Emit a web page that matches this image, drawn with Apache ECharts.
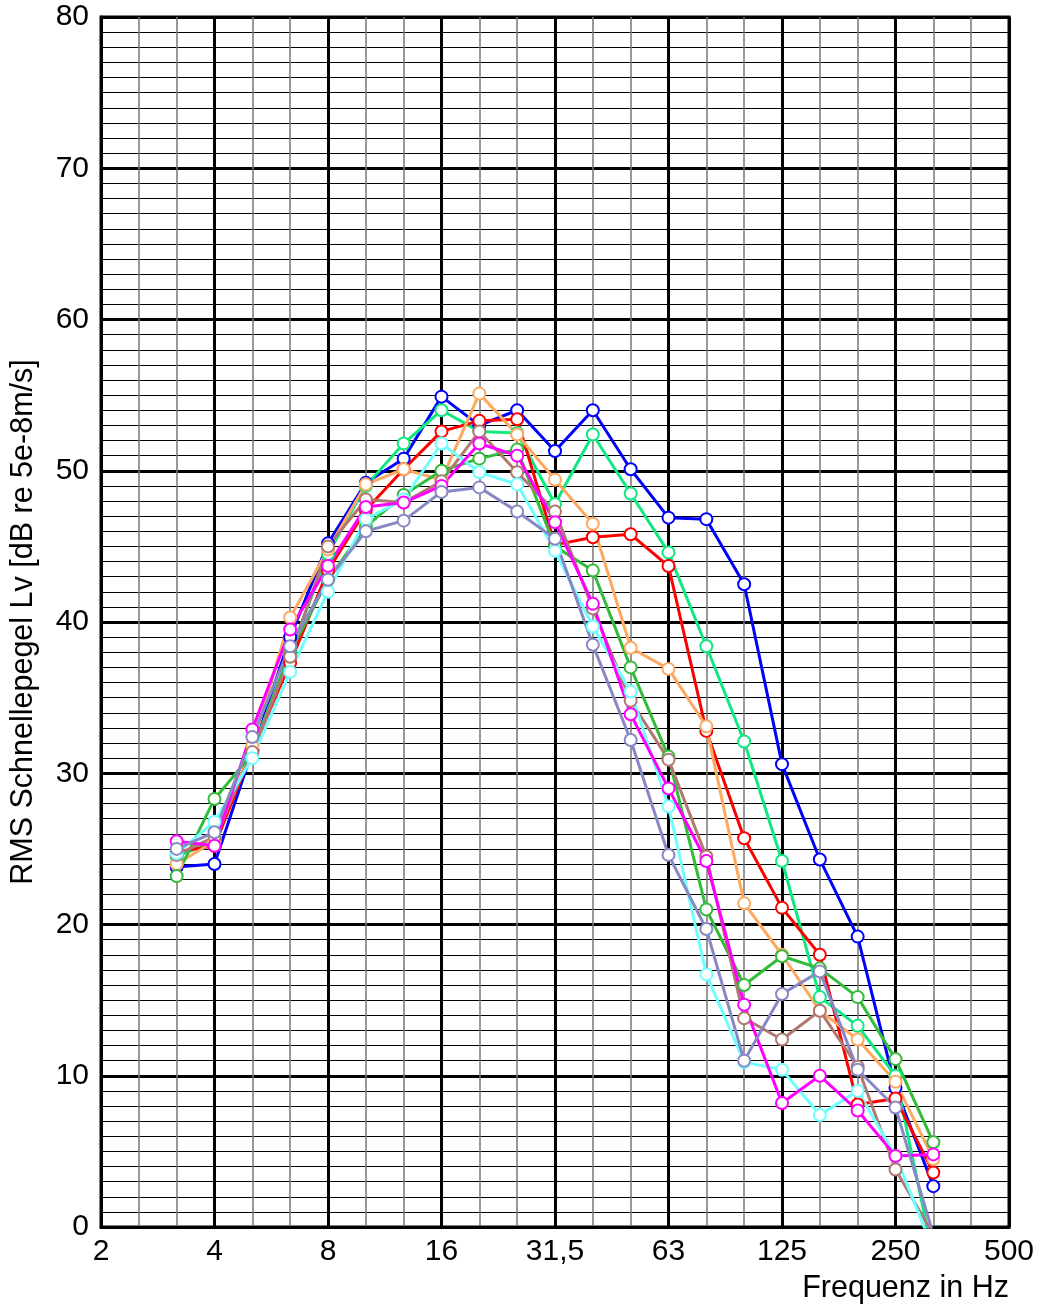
<!DOCTYPE html>
<html>
<head>
<meta charset="utf-8">
<script src="https://cdn.jsdelivr.net/npm/echarts@6/dist/echarts.min.js"></script>
<style>
  html, body { margin: 0; padding: 0; background: #fff; }
  #chart { width: 1039px; height: 1308px; }
</style>
</head>
<body>
<div id="chart"></div>
<script>
// third-octave bands measured (nominal Hz), x axis counts thirds of an octave from 2 Hz
const bands = ['3,15', '4', '5', '6,3', '8', '10', '12,5', '16', '20', '25', '31,5',
               '40', '50', '63', '80', '100', '125', '160', '200', '250', '315'];
const firstBandStep = 2; // 3,15 Hz is two thirds above 2 Hz
const octaveLabels = ['2', '4', '8', '16', '31,5', '63', '125', '250', '500'];

// Lv in dB per band
const blue    = [23.8, 24.0, 31.5, 39.0, 45.2, 49.2, 50.8, 54.9, 53.0, 54.0, 51.3, 54.0, 50.1, 46.9, 46.8, 42.5, 30.6, 24.3, 19.2, 9.2, 2.7];
const spring  = [24.5, 25.5, 31.5, 38.0, 44.5, 49.0, 51.8, 54.0, 52.6, 52.5, 47.8, 52.4, 48.5, 44.6, 38.4, 32.1, 24.2, 15.2, 13.3, 10.0, -2.0];
const red     = [24.8, 25.2, 31.5, 37.3, 43.4, 47.4, 50.1, 52.6, 53.3, 53.4, 45.1, 45.6, 45.8, 43.7, 32.8, 25.7, 21.1, 18.0, 8.1, 8.5, 3.6];
const orange  = [24.0, 25.5, 31.8, 40.3, 44.8, 49.1, 50.1, 49.4, 55.1, 52.4, 49.4, 46.5, 38.3, 36.9, 33.1, 21.4, 18.0, 14.3, 12.4, 9.6, 4.5];
const green   = [23.2, 28.3, 31.3, 38.0, 42.8, 46.3, 48.4, 50.0, 50.8, 51.4, 45.0, 43.4, 37.0, 31.1, 21.0, 16.0, 17.9, 17.1, 15.2, 11.1, 5.6];
const brown   = [24.6, 25.8, 31.4, 37.7, 45.0, 48.1, 47.9, 49.3, 52.6, 49.9, 47.3, 40.9, 34.8, 30.9, 24.5, 13.8, 12.4, 14.3, 10.6, 3.8, -0.5];
const magenta = [25.5, 25.2, 32.9, 39.5, 43.7, 47.6, 47.9, 49.0, 51.8, 51.0, 46.6, 41.2, 33.9, 29.0, 24.2, 14.7, 8.2, 10.0, 7.7, 4.7, 4.8];
const cyan    = [24.7, 26.8, 31.0, 36.7, 42.0, 46.8, 48.1, 51.8, 49.9, 49.1, 44.7, 39.7, 35.4, 27.8, 16.7, 10.9, 10.4, 7.4, 9.0, 4.7, -1.5];
const grey    = [25.0, 26.1, 32.4, 38.4, 42.8, 46.0, 46.7, 48.6, 48.9, 47.3, 45.5, 38.5, 32.2, 24.6, 19.7, 11.0, 15.4, 16.9, 10.4, 7.9, -0.5];

const curves = [
  { values: blue, color: '#0000ff' },
  { values: spring, color: '#10e880' },
  { values: red, color: '#ff0000' },
  { values: orange, color: '#ffa860' },
  { values: green, color: '#33bb3a' },
  { values: brown, color: '#b07870' },
  { values: cyan, color: '#70ffff' },
  { values: magenta, color: '#ff00ff' },
  { values: grey, color: '#8888c4' }
];

const font = 'Liberation Sans, Arial, sans-serif';

const chart = echarts.init(document.getElementById('chart'));

chart.setOption({
  animation: false,
  backgroundColor: '#fff',
  grid: {
    left: 101, right: 30, top: 17, bottom: 81,
    show: true, borderColor: '#000', borderWidth: 3
  },
  xAxis: {
    type: 'value',
    min: 0, max: (octaveLabels.length - 1) * 3, interval: 3,
    axisLine: { show: true, lineStyle: { color: '#000', width: 3 } },
    axisTick: { show: false },
    axisLabel: {
      color: '#000', fontSize: 30, fontFamily: font, margin: 10,
      formatter: v => octaveLabels[Math.round(v / 3)]
    },
    splitLine: { show: true, lineStyle: { color: '#000', width: 3 } },
    minorTick: { show: false, splitNumber: 3 },
    minorSplitLine: { show: true, lineStyle: { color: '#777', width: 1.5 } },
    name: 'Frequenz in Hz',
    nameLocation: 'end',
    nameGap: 0,
    nameTextStyle: {
      color: '#000', fontSize: 30.5, fontFamily: font,
      align: 'right', verticalAlign: 'top', padding: [46, 0, 0, 0]
    }
  },
  yAxis: {
    type: 'value',
    min: 0, max: 80, interval: 10,
    axisLine: { show: true, lineStyle: { color: '#000', width: 3 } },
    axisTick: { show: false },
    axisLabel: { color: '#000', fontSize: 30, fontFamily: font, margin: 12 },
    splitLine: { show: true, lineStyle: { color: '#000', width: 3 } },
    minorTick: { show: false, splitNumber: 10 },
    minorSplitLine: { show: true, lineStyle: { color: '#000', width: 1 } },
    name: 'RMS Schnellepegel Lv [dB re 5e-8m/s]',
    nameLocation: 'middle',
    nameRotate: 90,
    nameGap: 62,
    nameTextStyle: { color: '#000', fontSize: 30.5, fontFamily: font }
  },
  series: curves.map(c => ({
    type: 'line',
    clip: true,
    data: c.values.map((v, i) => [i + firstBandStep, v]),
    symbol: 'circle',
    symbolSize: 12,
    showAllSymbol: true,
    lineStyle: { color: c.color, width: 3 },
    itemStyle: { color: '#fff', borderColor: c.color, borderWidth: 2 }
  }))
});

window.onresize = function () {
  chart.resize();
};
</script>
</body>
</html>
